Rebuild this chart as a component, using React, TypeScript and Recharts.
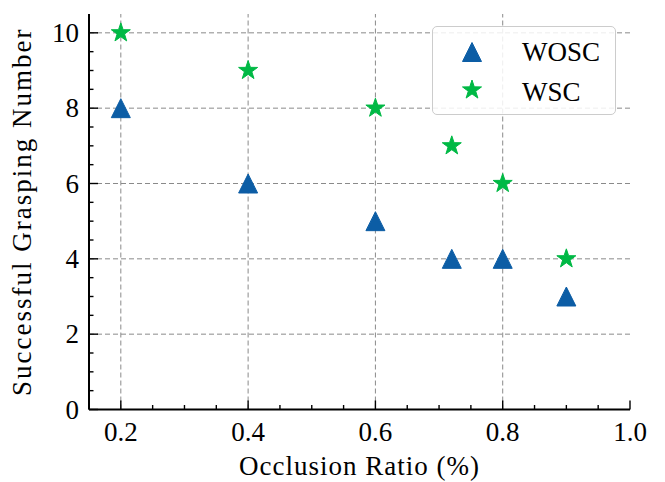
import { ScatterChart, Scatter, XAxis, YAxis, ReferenceLine, Legend } from 'recharts';

const occlusion = [0.2, 0.4, 0.6, 0.72, 0.8, 0.9];
const woscCounts = [8, 6, 5, 4, 4, 3];
const wscCounts = [10, 9, 8, 7, 6, 4];

const xTicks = [0.15, 0.2, 0.25, 0.3, 0.35, 0.4, 0.45, 0.5, 0.55, 0.6, 0.65, 0.7, 0.75, 0.8, 0.85, 0.9, 0.95, 1.0];
const xMajor = [0.2, 0.4, 0.6, 0.8, 1.0];
const xLabels = ['0.2', '0.4', '0.6', '0.8', '1.0'];
const yTicks = [0, 0.5, 1, 1.5, 2, 2.5, 3, 3.5, 4, 4.5, 5, 5.5, 6, 6.5, 7, 7.5, 8, 8.5, 9, 9.5, 10];
const yMajor = [0, 2, 4, 6, 8, 10];
const yLabels = ['0', '2', '4', '6', '8', '10'];
const xGrid = [0.2, 0.4, 0.6, 0.8];
const yGrid = [2, 4, 6, 8, 10];

const BLUE = '#0C5DA5';
const GREEN = '#00B945';
const FONT = '"Liberation Serif", "Times New Roman", serif';
const FS = 27;

const woscData = occlusion.map((x, i) => ({ x, y: woscCounts[i] }));
const wscData = occlusion.map((x, i) => ({ x, y: wscCounts[i] }));

const majorIndex = (list: number[], v: number) => list.findIndex((m) => Math.abs(m - v) < 1e-6);

function Triangle({ cx, cy, color }: { cx: number; cy: number; color: string }) {
  const h = 9.5;
  return (
    <polygon
      points={`${cx},${cy - h} ${cx - h},${cy + h} ${cx + h},${cy + h}`}
      fill={color}
      stroke={color}
      strokeWidth={1}
      strokeLinejoin="round"
    />
  );
}

function Star({ cx, cy, color }: { cx: number; cy: number; color: string }) {
  const pts: string[] = [];
  for (let k = 0; k < 10; k++) {
    const a = ((-90 + k * 36) * Math.PI) / 180;
    const r = k % 2 === 0 ? 10 : 3.9;
    pts.push(`${cx + r * Math.cos(a)},${cy + r * Math.sin(a)}`);
  }
  return <polygon points={pts.join(' ')} fill={color} stroke={color} strokeWidth={1} strokeLinejoin="round" />;
}

function BottomTick({ x, y, payload }: any) {
  const idx = majorIndex(xMajor, payload.value);
  const len = idx >= 0 ? 9 : 4.5;
  return (
    <g>
      <line x1={x} x2={x} y1={y} y2={y - len} stroke="#000" strokeWidth={1.4} />
      {idx >= 0 && (
        <text x={x} y={y + 31} textAnchor="middle" fontFamily={FONT} fontSize={FS} fill="#000">
          {xLabels[idx]}
        </text>
      )}
    </g>
  );
}

function TopTick({ x, y, payload }: any) {
  const len = majorIndex(xMajor, payload.value) >= 0 ? 9 : 4.5;
  return <line x1={x} x2={x} y1={y} y2={y + len} stroke="#000" strokeWidth={1.4} />;
}

function LeftTick({ x, y, payload }: any) {
  const idx = majorIndex(yMajor, payload.value);
  const len = idx >= 0 ? 9 : 4.5;
  return (
    <g>
      <line x1={x} x2={x + len} y1={y} y2={y} stroke="#000" strokeWidth={1.4} />
      {idx >= 0 && (
        <text x={x - 10} y={y + 9} textAnchor="end" fontFamily={FONT} fontSize={FS} fill="#000">
          {yLabels[idx]}
        </text>
      )}
    </g>
  );
}

function RightTick({ x, y, payload }: any) {
  const len = majorIndex(yMajor, payload.value) >= 0 ? 9 : 4.5;
  return <line x1={x} x2={x - len} y1={y} y2={y} stroke="#000" strokeWidth={1.4} />;
}

function LegendBox() {
  return (
    <div
      style={{
        width: 182,
        height: 87,
        border: '1.5px solid #cccccc',
        borderRadius: 5,
        background: 'rgba(255,255,255,0.85)',
      }}
    >
      <svg width={182} height={87} style={{ display: 'block' }}>
        <Triangle cx={39} cy={25} color={BLUE} />
        <text x={89} y={33.5} fontFamily={FONT} fontSize={FS} fill="#000">
          WOSC
        </text>
        <Star cx={39} cy={63} color={GREEN} />
        <text x={89} y={74} fontFamily={FONT} fontSize={FS} fill="#000">
          WSC
        </text>
      </svg>
    </div>
  );
}

const axisLine = { stroke: '#000', strokeWidth: 2 };

export default function App() {
  return (
    <div style={{ position: 'absolute', left: 0, top: 0, width: 665, height: 482, background: '#fff' }}>
      <ScatterChart width={665} height={482} margin={{ top: 14, right: 35, bottom: 7, left: 29 }}>
        <XAxis
          type="number"
          dataKey="x"
          domain={[0.15, 1.0]}
          ticks={xTicks}
          interval={0}
          tickSize={0}
          tickMargin={0}
          tickLine={false}
          tick={BottomTick}
          axisLine={axisLine}
          height={65.5}
          allowDataOverflow
          label={{
            content: ({ viewBox }: any) => (
              <text
                x={viewBox.x + viewBox.width / 2}
                y={viewBox.y + 65.5}
                textAnchor="middle"
                fontFamily={FONT}
                fontSize={FS}
                letterSpacing={1}
                fill="#000"
              >
                Occlusion Ratio (%)
              </text>
            ),
          }}
        />
        <XAxis
          xAxisId="top"
          orientation="top"
          type="number"
          domain={[0.15, 1.0]}
          ticks={xTicks}
          interval={0}
          tickSize={0}
          tickMargin={0}
          tickLine={false}
          tick={TopTick}
          axisLine={axisLine}
          height={0}
          allowDataOverflow
        />
        <YAxis
          type="number"
          dataKey="y"
          domain={[0, 10.5]}
          ticks={yTicks}
          interval={0}
          tickSize={0}
          tickMargin={0}
          tickLine={false}
          tick={LeftTick}
          axisLine={axisLine}
          width={60}
          allowDataOverflow
          label={{
            content: ({ viewBox }: any) => {
              const cy = viewBox.y + viewBox.height / 2;
              return (
                <text
                  x={31}
                  y={cy}
                  transform={`rotate(-90 31 ${cy})`}
                  textAnchor="middle"
                  fontFamily={FONT}
                  fontSize={FS}
                  letterSpacing={2}
                  fill="#000"
                >
                  Successful Grasping Number
                </text>
              );
            },
          }}
        />
        <YAxis
          yAxisId="right"
          orientation="right"
          type="number"
          domain={[0, 10.5]}
          ticks={yTicks}
          interval={0}
          tickSize={0}
          tickMargin={0}
          tickLine={false}
          tick={RightTick}
          axisLine={axisLine}
          width={0}
          allowDataOverflow
        />
        {xGrid.map((v) => (
          <ReferenceLine key={`gx${v}`} x={v} stroke="#8a8a8a" strokeWidth={1} strokeDasharray="5 3" />
        ))}
        {yGrid.map((v) => (
          <ReferenceLine key={`gy${v}`} y={v} stroke="#8a8a8a" strokeWidth={1} strokeDasharray="5 3" />
        ))}
        <Scatter
          name="WOSC"
          data={woscData}
          isAnimationActive={false}
          shape={(p: any) => <Triangle cx={p.cx} cy={p.cy} color={BLUE} />}
        />
        <Scatter
          name="WSC"
          data={wscData}
          isAnimationActive={false}
          shape={(p: any) => <Star cx={p.cx} cy={p.cy} color={GREEN} />}
        />
        <Legend
          layout="horizontal"
          verticalAlign="middle"
          align="center"
          wrapperStyle={{ position: 'absolute', left: 432, top: 26, width: 185, height: 90 }}
          content={() => <LegendBox />}
        />
      </ScatterChart>
    </div>
  );
}
